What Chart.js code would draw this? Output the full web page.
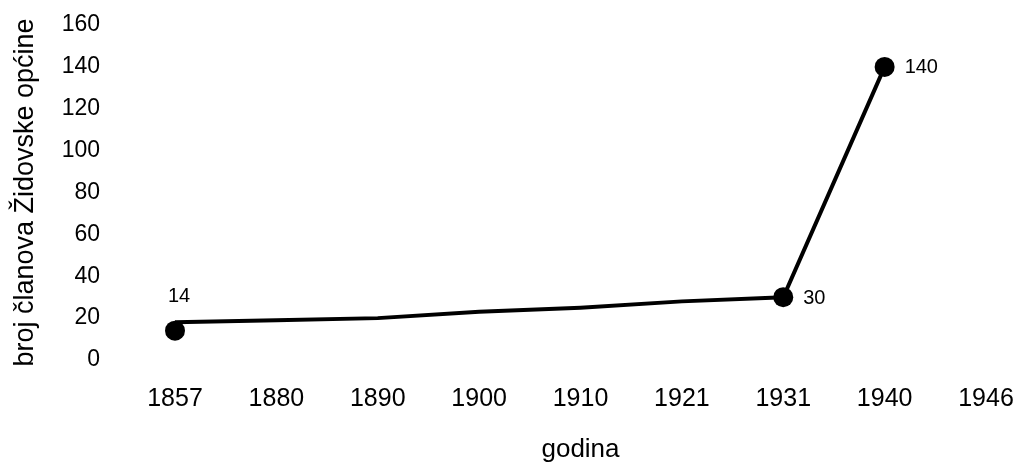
<!DOCTYPE html>
<html lang="hr">
<head>
<meta charset="utf-8">
<script src="https://cdn.jsdelivr.net/npm/chart.js@4.4.1/dist/chart.umd.min.js"></script>
<style>
  html, body { margin: 0; padding: 0; background: #fff; }
</style>
</head>
<body>
<canvas id="grafica" width="1018" height="462"></canvas>
<script>
// Godine i broj članova općine
const godine = ['1857', '1880', '1890', '1900', '1910', '1921', '1931', '1940', '1946']
const tokClanova = [18, 19, 20, 23, 25, 28, 30, 140, null]   // crta između popisa
const popisi = [14, null, null, null, null, null, 30, 140, null] // točke s oznakom
const yOznake = [0, 20, 40, 60, 80, 100, 120, 140, 160]

Chart.defaults.font.family = "'Liberation Sans', Arial, sans-serif"
Chart.defaults.color = '#000'

// brojke uz točke
const oznakeTocaka = {
  id: 'oznakeTocaka',
  afterDatasetsDraw(chart) {
    const meta = chart.getDatasetMeta(1)
    const ctx = chart.ctx
    ctx.save()
    ctx.font = "20px 'Liberation Sans', Arial, sans-serif"
    ctx.fillStyle = '#000'
    ctx.textBaseline = 'middle'
    popisi.forEach(function(v, i) {
      if (v == null) return
      const pt = meta.data[i]
      if (i === 0) {
        ctx.textAlign = 'center'
        ctx.fillText(String(v), pt.x + 4, pt.y - 34)
      } else {
        ctx.textAlign = 'left'
        ctx.fillText(String(v), pt.x + 20, pt.y + 1)
      }
    })
    ctx.restore()
  }
}

new Chart(document.getElementById('grafica'), {
  type: 'line',
  data: {
    labels: godine,
    datasets: [
      {
        data: tokClanova,
        borderColor: '#000',
        borderWidth: 4,
        pointRadius: 0,
        tension: 0,
      },
      {
        data: popisi,
        showLine: false,
        pointRadius: 10,
        pointBackgroundColor: '#000',
        pointBorderWidth: 0,
      }
    ]
  },
  options: {
    responsive: false,
    animation: false,
    layout: { padding: { top: 25, right: 32, bottom: 0, left: 0 } },
    plugins: { legend: { display: false }, tooltip: { enabled: false } },
    scales: {
      x: {
        offset: false,
        grid: { display: false, drawTicks: false },
        border: { display: false },
        ticks: { font: { size: 25 }, padding: 24, maxRotation: 0, autoSkip: false },
        title: { display: true, text: 'godina', font: { size: 26 }, padding: { top: 0, bottom: -3 } },
        afterFit: function(s) {
          s.height = 102
          s.paddingLeft = 28
          s.paddingRight = 28
        }
      },
      y: {
        min: 0,
        max: 160,
        grid: { display: false, drawTicks: false },
        border: { display: false },
        ticks: { font: { size: 23 }, padding: 75 },
        afterBuildTicks: function(s) { s.ticks = yOznake.map(function(v) { return { value: v } }) },
        title: { display: true, text: 'broj članova Židovske općine', font: { size: 27 }, padding: { top: 9, bottom: 0 } },
        afterFit: function(s) {
          s.width = 175
          s.paddingTop = 12
          s.paddingBottom = 12
        }
      }
    }
  },
  plugins: [oznakeTocaka]
})
</script>
</body>
</html>
